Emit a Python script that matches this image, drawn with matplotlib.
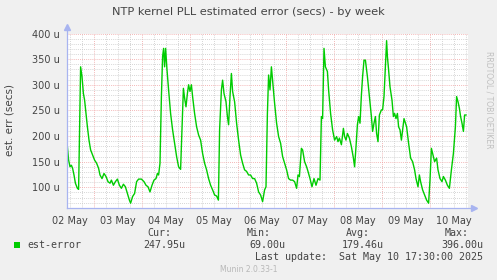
import matplotlib
matplotlib.use("Agg")
import matplotlib.pyplot as plt

# hours since 02 May 00:00 and estimated error in microseconds
hours = [10.7, 11.3, 12, 12.7, 13.3, 14, 14.7, 15.7, 16.3, 17.3, 18, 18.7, 19.3, 20, 20.7,
         21.5, 22.3, 23.3, 24.3, 25.3, 26.3, 27, 28, 29, 30, 31, 32, 32.7, 33.7, 34.7,
         35.7, 36.7, 37.7, 38.7, 39.7, 40.7, 41.7, 42.3, 43.3, 44.3, 45.3, 46.3, 47.7, 49,
         50, 51, 52, 53, 54, 55, 55.7, 56.3, 57, 57.7, 58.3, 58.8, 59.3, 59.8, 60.5, 61.3,
         62.3, 63.3, 64.3, 65.3, 66.3, 67.3, 68, 68.7, 69.3, 70, 70.7, 71.3, 72, 72.7,
         73.3, 74.3, 75.3, 76.3, 77.3, 78.3, 79.3, 80.3, 81.3, 82.3, 83.3, 84.3, 85.3,
         86.2, 86.8, 87.7, 88.3, 89, 90, 90.7, 91.3, 92, 92.7, 93.3, 94.3, 95.3, 96.3,
         97.3, 98.3, 99.3, 100.3, 101.3, 102.3, 103.3, 104.3, 105.3, 106.3, 107.3, 108.3,
         109.3, 110, 110.7, 111.3, 112, 112.7, 113.3, 114.3, 115.3, 116.3, 117.3, 118.3,
         119.3, 120.3, 121.3, 122.3, 123.3, 124.3, 125.3, 126, 126.7, 127.7, 128.3, 129.3,
         130.3, 131, 132, 133, 134, 135, 136, 137, 137.7, 138.3, 139, 139.7, 140.7, 141.3,
         142.3, 143.3, 144.3, 145.3, 146, 146.7, 147.7, 148.7, 149.3, 150, 150.7, 151.7,
         152.7, 153.7, 154.3, 155, 155.7, 156.3, 157, 157.7, 158.3, 159, 159.7, 160.7,
         161.7, 162.7, 163.3, 164, 164.7, 165.3, 166, 166.7, 167.7, 168.3, 169, 169.7,
         170.3, 170.7, 171.3, 172, 173, 173.7, 174.3, 175, 175.7, 176.3, 177, 177.7, 178.3,
         179, 179.7, 180.3, 181.3, 182.3, 183.3, 184.3, 185, 186, 186.7, 187.3, 188.3,
         189.3, 190.3, 191.3, 192, 192.7, 193.3, 194.3, 195.3, 196, 197, 198, 198.7, 199.7,
         200.7, 201.7, 202.7, 203.7, 204.7, 205.3, 206, 206.7, 207.3, 208, 208.7, 209.3, 210]
est_error = [179, 153, 140, 143, 137, 124, 108, 98, 96, 335, 316, 283, 270, 244, 218,
             192, 173, 163, 153, 147, 137, 124, 117, 127, 121, 111, 108, 114, 104, 111,
             116, 104, 98, 106, 101, 88, 75, 69, 82, 88, 111, 116, 116, 111,
             104, 101, 91, 104, 114, 117, 127, 124, 147, 277, 355, 371, 335, 371, 329, 290,
             244, 212, 186, 160, 140, 135, 212, 293, 274, 257, 283, 300, 287, 300,
             277, 244, 218, 202, 192, 166, 147, 134, 117, 104, 95, 85, 83,
             75, 212, 290, 309, 283, 267, 238, 222, 277, 322, 287, 267, 225, 192,
             163, 147, 134, 131, 124, 124, 117, 117, 108, 91, 85, 72,
             95, 101, 244, 319, 290, 335, 309, 264, 225, 199, 186, 160,
             147, 134, 117, 114, 114, 111, 98, 124, 121, 176, 173, 150,
             140, 131, 117, 101, 117, 104, 117, 114, 238, 234, 371, 335, 326, 290,
             244, 212, 192, 199, 189, 196, 183, 215, 199, 192, 205, 196,
             179, 157, 140, 179, 222, 238, 225, 280, 316, 348, 348, 316,
             277, 238, 209, 225, 238, 205, 189, 241, 251, 251, 277, 335,
             386, 355, 329, 296, 270, 238, 244, 234, 244, 218, 212, 192, 212,
             234, 225, 218, 186, 157, 150, 134, 117, 101, 124, 111, 95,
             85, 75, 69, 114, 176, 166, 150, 157, 134, 117, 111, 121, 114,
             104, 98, 134, 166, 218, 277, 267, 254, 238, 225, 209, 241, 241]

day_ticks = [12, 36, 60, 84, 108, 132, 156, 180, 204]
day_labels = ['02 May', '03 May', '04 May', '05 May', '06 May', '07 May', '08 May', '09 May', '10 May']
y_ticks = [100, 150, 200, 250, 300, 350, 400]

W, H = 497, 280
def fx(x):
    return x / W
def fy(y):
    return 1 - y / H

txt = '#444444'
fig = plt.figure(figsize=(W / 100, H / 100), dpi=100, facecolor='#f0f0f0')
left, right, top, bottom = 66.5, 468, 33.5, 207.8
ax = fig.add_axes([fx(left), fy(bottom), fx(right - left), (bottom - top) / H])
ax.set_facecolor('white')

ax.set_xlim(10.25, 211)
ax.set_ylim(60, 400)

# grid: minor gray, major red, all dotted
for h in range(12, 211, 6):
    if h % 24:
        ax.axvline(h, color='#c8c8c8', lw=0.6, ls=(0, (1, 1.5)), zorder=1)
for h in range(24, 211, 24):
    ax.axvline(h, color='#f0a0a0', lw=0.6, ls=(0, (1, 1.5)), zorder=1)
for v in range(70, 401, 10):
    if v % 50:
        ax.axhline(v, color='#c8c8c8', lw=0.6, ls=(0, (1, 1.5)), zorder=1)
for v in y_ticks:
    ax.axhline(v, color='#f0a0a0', lw=0.6, ls=(0, (1, 1.5)), zorder=1)

ax.plot(hours, est_error, color='#00cc00', lw=1.0, zorder=3)

for s in ax.spines.values():
    s.set_visible(False)

ax.set_xticks(day_ticks)
ax.set_xticklabels(day_labels)
ax.set_yticks(y_ticks)
ax.set_yticklabels(['%d u' % v for v in y_ticks])
ax.tick_params(length=0, labelsize=7, colors=txt)
ax.tick_params(axis='x', pad=6)
ax.tick_params(axis='y', pad=5)

# axis lines with arrows
axc = '#a8b4f0'
fig.add_artist(plt.Line2D([fx(left), fx(left)], [fy(bottom), fy(27)], color=axc, lw=0.9))
fig.add_artist(plt.Line2D([fx(left), fx(474)], [fy(bottom), fy(bottom)], color=axc, lw=0.9))
fig.add_artist(plt.Line2D([fx(left)], [fy(27)], marker='^', ms=4, color=axc, lw=0))
fig.add_artist(plt.Line2D([fx(474)], [fy(bottom)], marker='>', ms=4, color=axc, lw=0))

fig.text(0.5, fy(12), 'NTP kernel PLL estimated error (secs) - by week',
         ha='center', va='center', fontsize=8.2, color=txt)
fig.text(fx(10), fy(120), 'est. err (secs)', rotation=90, ha='center', va='center',
         fontsize=7.5, color=txt)
fig.text(fx(489), fy(100), 'RRDTOOL / TOBI OETIKER', rotation=270, ha='center', va='center',
         fontsize=5.5, color='#c0c0c0')

mono = 'DejaVu Sans Mono'
fs = 7.2
fig.patches.append(plt.Rectangle((fx(14), fy(248)), 6 / W, 6 / H, transform=fig.transFigure,
                                 facecolor='#00cc00', edgecolor='none', figure=fig))
fig.text(fx(27), fy(245), 'est-error', family=mono, fontsize=fs, va='center', color=txt)
for xr, head, val in [(185, 'Cur:', '247.95u'), (285, 'Min:', '69.00u'),
                      (384, 'Avg:', '179.46u'), (483, 'Max:', '396.00u')]:
    fig.text(fx(xr - 14), fy(233), head, family=mono, fontsize=fs, ha='right', va='center', color=txt)
    fig.text(fx(xr), fy(245), val, family=mono, fontsize=fs, ha='right', va='center', color=txt)
fig.text(fx(483), fy(257.5), 'Last update:  Sat May 10 17:30:00 2025', family=mono, fontsize=fs,
         ha='right', va='center', color=txt)
fig.text(fx(249), fy(269), 'Munin 2.0.33-1', fontsize=5.5, ha='center', va='center', color='#b8b8b8')

fig.savefig('out.png', dpi=100, facecolor=fig.get_facecolor())
